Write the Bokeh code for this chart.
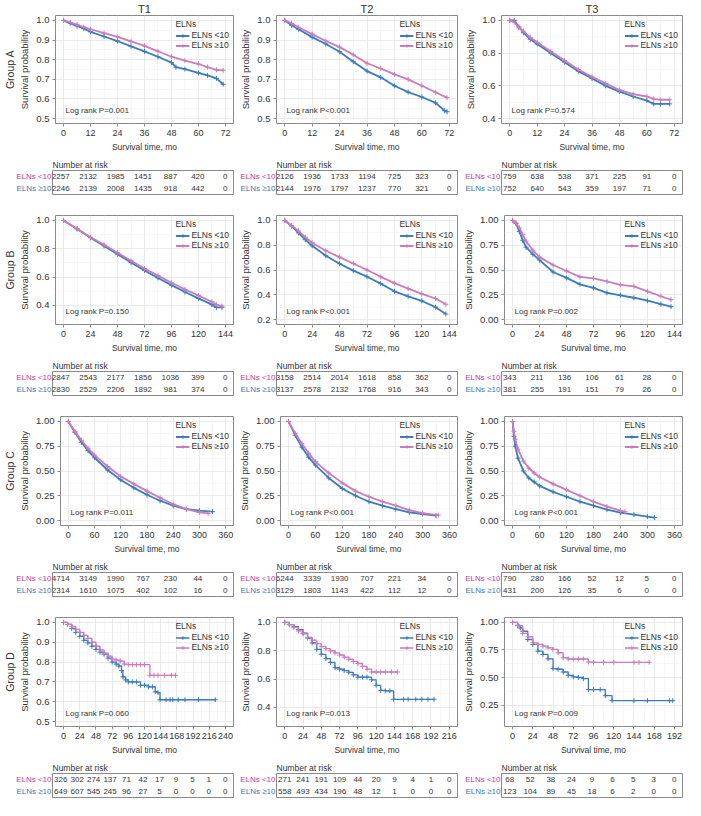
from bokeh.plotting import figure
from bokeh.layouts import column, row
from bokeh.models import (Range1d, FixedTicker, NumeralTickFormatter, Label, Title,
                          Legend, LegendItem)
from bokeh.embed import file_html
from bokeh.resources import INLINE
from bokeh.core.properties import value

FONT = "Liberation Sans"
BLUE = "#3B7CC0"
PINK = "#CB7CB9"
LAB_LT = "#C8389E"
LAB_GE = "#3B78B8"

# ---------------- data ----------------
series_labels = ["ELNs <10", "ELNs \u226510"]
col_titles = ["T1", "T2", "T3"]
row_titles = ["Group A", "Group B", "Group C", "Group D"]

# x ticks (also risk-table times)
xt_A = [0, 12, 24, 36, 48, 60, 72]
xt_B = [0, 24, 48, 72, 96, 120, 144]
xt_C = [0, 60, 120, 180, 240, 300, 360]
xt_D1 = [0, 24, 48, 72, 96, 120, 144, 168, 192, 216, 240]
xt_D2 = [0, 24, 48, 72, 96, 120, 144, 168, 192, 216]
xt_D3 = [0, 24, 48, 72, 96, 120, 144, 168, 192]

# y ticks
yt_A12 = [0.5, 0.6, 0.7, 0.8, 0.9, 1.0]
yt_A3 = [0.4, 0.6, 0.8, 1.0]
yt_B1 = [0.4, 0.6, 0.8, 1.0]
yt_B2 = [0.2, 0.4, 0.6, 0.8, 1.0]
yt_Q = [0.0, 0.25, 0.5, 0.75, 1.0]
yt_D1 = [0.5, 0.6, 0.7, 0.8, 0.9, 1.0]
yt_D2 = [0.4, 0.6, 0.8, 1.0]
yt_D3 = [0.25, 0.5, 0.75, 1.0]

# y limits (before 5% expansion)
ylim_A12 = [0.5, 1.0]
ylim_A3 = [0.4, 1.0]
ylim_B1 = [0.3, 1.0]
ylim_B2 = [0.2, 1.0]
ylim_Q = [0.0, 1.0]
ylim_D1 = [0.5, 1.0]
ylim_D2 = [0.3, 1.0]
ylim_D3 = [0.1, 1.0]

pvals = ["Log rank P=0.001", "Log rank P<0.001", "Log rank P=0.574",
         "Log rank P=0.150", "Log rank P<0.001", "Log rank P=0.002",
         "Log rank P=0.011", "Log rank P<0.001", "Log rank P<0.001",
         "Log rank P=0.060", "Log rank P=0.013", "Log rank P=0.009"]

# --- Group A ---
A1_lt_t = [0, 3, 6, 9, 12, 18, 24, 30, 36, 42, 48, 50, 54, 60, 64, 68, 71]
A1_lt_s = [1.0, 0.985, 0.972, 0.958, 0.942, 0.918, 0.895, 0.868, 0.842, 0.815, 0.785, 0.762, 0.752, 0.733, 0.72, 0.705, 0.675]
A1_ge_t = [0, 3, 6, 9, 12, 18, 24, 30, 36, 42, 48, 54, 60, 64, 68, 71]
A1_ge_s = [1.0, 0.99, 0.978, 0.966, 0.955, 0.935, 0.916, 0.893, 0.87, 0.843, 0.815, 0.795, 0.778, 0.762, 0.748, 0.746]

A2_lt_t = [0, 3, 6, 12, 18, 24, 30, 36, 42, 48, 54, 60, 66, 70, 71]
A2_lt_s = [1.0, 0.975, 0.955, 0.915, 0.88, 0.84, 0.79, 0.742, 0.71, 0.667, 0.635, 0.61, 0.58, 0.54, 0.535]
A2_ge_t = [0, 3, 6, 12, 18, 24, 30, 36, 42, 48, 54, 60, 66, 71]
A2_ge_s = [1.0, 0.985, 0.965, 0.93, 0.895, 0.864, 0.825, 0.782, 0.755, 0.725, 0.70, 0.667, 0.634, 0.607]

A3_lt_t = [0, 2, 4, 6, 9, 12, 18, 24, 30, 36, 42, 48, 54, 60, 63, 66, 70]
A3_lt_s = [1.0, 1.0, 0.96, 0.925, 0.885, 0.856, 0.80, 0.745, 0.69, 0.645, 0.60, 0.565, 0.535, 0.51, 0.49, 0.49, 0.49]
A3_ge_t = [0, 2, 4, 6, 9, 12, 18, 24, 30, 36, 42, 48, 54, 60, 63, 66, 70]
A3_ge_s = [1.0, 0.99, 0.955, 0.935, 0.895, 0.866, 0.81, 0.755, 0.70, 0.655, 0.615, 0.575, 0.55, 0.535, 0.52, 0.515, 0.515]

# --- Group B ---
B1_lt_t = [0, 12, 24, 36, 48, 60, 72, 84, 96, 108, 120, 132, 136, 141]
B1_lt_s = [1.0, 0.94, 0.878, 0.82, 0.762, 0.703, 0.647, 0.594, 0.543, 0.495, 0.45, 0.405, 0.386, 0.386]
B1_ge_t = [0, 12, 24, 36, 48, 60, 72, 84, 96, 108, 120, 132, 136, 141]
B1_ge_s = [1.0, 0.942, 0.882, 0.828, 0.772, 0.716, 0.66, 0.61, 0.56, 0.513, 0.47, 0.425, 0.405, 0.395]

B2_lt_t = [0, 6, 12, 18, 24, 36, 48, 60, 72, 84, 96, 108, 120, 132, 141]
B2_lt_s = [1.0, 0.955, 0.90, 0.845, 0.795, 0.715, 0.651, 0.595, 0.546, 0.49, 0.428, 0.387, 0.35, 0.30, 0.245]
B2_ge_t = [0, 6, 12, 18, 24, 36, 48, 60, 72, 84, 96, 108, 120, 132, 141]
B2_ge_s = [1.0, 0.96, 0.915, 0.865, 0.82, 0.755, 0.704, 0.652, 0.60, 0.545, 0.494, 0.45, 0.407, 0.37, 0.323]

B3_lt_t = [0, 3, 6, 9, 12, 18, 24, 36, 48, 60, 72, 84, 96, 108, 120, 132, 141]
B3_lt_s = [1.0, 0.97, 0.89, 0.80, 0.73, 0.66, 0.60, 0.48, 0.42, 0.355, 0.32, 0.27, 0.245, 0.22, 0.19, 0.155, 0.13]
B3_ge_t = [0, 3, 6, 9, 12, 18, 24, 36, 48, 60, 72, 84, 96, 108, 120, 132, 141]
B3_ge_s = [1.0, 0.975, 0.925, 0.86, 0.79, 0.70, 0.63, 0.55, 0.49, 0.43, 0.415, 0.385, 0.35, 0.335, 0.285, 0.235, 0.20]

# --- Group C ---
C1_lt_t = [0, 15, 30, 45, 60, 90, 120, 150, 180, 210, 240, 270, 300, 330]
C1_lt_s = [1.0, 0.89, 0.79, 0.705, 0.634, 0.51, 0.41, 0.33, 0.26, 0.20, 0.15, 0.115, 0.10, 0.09]
C1_ge_t = [0, 15, 30, 45, 60, 90, 120, 150, 180, 210, 240, 270, 300, 320]
C1_ge_s = [1.0, 0.90, 0.81, 0.73, 0.66, 0.545, 0.445, 0.37, 0.297, 0.23, 0.165, 0.115, 0.083, 0.073]

C2_lt_t = [0, 15, 30, 45, 60, 90, 120, 150, 180, 210, 240, 270, 300, 330]
C2_lt_s = [1.0, 0.86, 0.74, 0.64, 0.56, 0.43, 0.323, 0.25, 0.19, 0.15, 0.115, 0.083, 0.066, 0.05]
C2_ge_t = [0, 15, 30, 45, 60, 90, 120, 150, 180, 210, 240, 270, 300, 335]
C2_ge_s = [1.0, 0.88, 0.775, 0.68, 0.594, 0.48, 0.38, 0.297, 0.24, 0.19, 0.15, 0.105, 0.075, 0.055]

C3_lt_t = [0, 3, 6, 12, 24, 36, 48, 60, 90, 120, 150, 180, 210, 240, 270, 300, 316]
C3_lt_s = [1.0, 0.85, 0.75, 0.63, 0.5, 0.43, 0.39, 0.35, 0.29, 0.24, 0.19, 0.15, 0.11, 0.08, 0.06, 0.04, 0.03]
C3_ge_t = [0, 3, 6, 12, 24, 36, 48, 60, 90, 120, 150, 180, 210, 240, 250]
C3_ge_s = [1.0, 0.9, 0.82, 0.72, 0.6, 0.53, 0.48, 0.44, 0.37, 0.31, 0.25, 0.19, 0.14, 0.10, 0.09]

# --- Group D ---
D1_lt_t = [0, 6, 12, 18, 24, 30, 36, 42, 48, 54, 60, 66, 72, 78, 82, 86, 88, 92, 96, 102, 108, 114, 120, 126, 132, 136, 140, 143, 152, 158, 162, 170, 180, 200, 225]
D1_lt_s = [1.0, 0.99, 0.97, 0.95, 0.93, 0.91, 0.897, 0.88, 0.864, 0.85, 0.84, 0.82, 0.80, 0.79, 0.78, 0.757, 0.725, 0.71, 0.70, 0.70, 0.70, 0.683, 0.683, 0.675, 0.675, 0.65, 0.646, 0.61, 0.61, 0.61, 0.61, 0.61, 0.61, 0.61, 0.61]
D1_ge_t = [0, 6, 12, 18, 24, 30, 36, 42, 48, 54, 60, 66, 72, 78, 84, 90, 96, 102, 108, 114, 120, 128, 134, 140, 150, 160, 166]
D1_ge_s = [1.0, 0.99, 0.98, 0.965, 0.95, 0.935, 0.92, 0.90, 0.88, 0.862, 0.845, 0.83, 0.815, 0.81, 0.805, 0.79, 0.787, 0.787, 0.787, 0.787, 0.787, 0.733, 0.733, 0.733, 0.733, 0.733, 0.733]

D2_lt_t = [0, 6, 12, 18, 24, 30, 36, 42, 48, 54, 60, 66, 72, 78, 84, 90, 96, 102, 108, 114, 120, 126, 132, 138, 143, 156, 162, 172, 180, 188, 196]
D2_lt_s = [1.0, 0.985, 0.97, 0.95, 0.925, 0.89, 0.855, 0.81, 0.775, 0.745, 0.717, 0.68, 0.67, 0.66, 0.648, 0.63, 0.614, 0.614, 0.614, 0.595, 0.556, 0.52, 0.517, 0.517, 0.457, 0.457, 0.457, 0.457, 0.457, 0.457, 0.457]
D2_ge_t = [0, 6, 12, 18, 24, 30, 36, 42, 48, 54, 60, 66, 72, 78, 84, 90, 96, 102, 108, 114, 120, 126, 132, 140, 148]
D2_ge_s = [1.0, 0.985, 0.965, 0.94, 0.92, 0.895, 0.875, 0.85, 0.83, 0.815, 0.80, 0.785, 0.77, 0.755, 0.74, 0.725, 0.71, 0.69, 0.67, 0.65, 0.65, 0.65, 0.65, 0.65, 0.65]

D3_lt_t = [0, 6, 9, 12, 18, 24, 30, 36, 42, 48, 54, 60, 66, 72, 78, 84, 90, 96, 104, 110, 118, 144, 160, 186, 190]
D3_lt_s = [1.0, 0.975, 0.95, 0.92, 0.845, 0.80, 0.74, 0.71, 0.67, 0.58, 0.575, 0.55, 0.52, 0.506, 0.50, 0.49, 0.39, 0.39, 0.39, 0.335, 0.29, 0.29, 0.29, 0.29, 0.29]
D3_ge_t = [0, 6, 12, 18, 24, 30, 36, 42, 48, 54, 60, 66, 72, 78, 84, 90, 96, 108, 120, 144, 150, 162]
D3_ge_s = [1.0, 0.97, 0.90, 0.87, 0.815, 0.80, 0.785, 0.77, 0.755, 0.725, 0.68, 0.668, 0.668, 0.668, 0.668, 0.64, 0.638, 0.638, 0.638, 0.638, 0.638, 0.638]

# --- number at risk ---
R_A1_lt = [2257, 2132, 1985, 1451, 887, 420, 0]
R_A1_ge = [2246, 2139, 2008, 1435, 918, 442, 0]
R_A2_lt = [2126, 1936, 1733, 1194, 725, 323, 0]
R_A2_ge = [2144, 1976, 1797, 1237, 770, 321, 0]
R_A3_lt = [759, 638, 538, 371, 225, 91, 0]
R_A3_ge = [752, 640, 543, 359, 197, 71, 0]
R_B1_lt = [2847, 2543, 2177, 1856, 1036, 399, 0]
R_B1_ge = [2830, 2529, 2206, 1892, 981, 374, 0]
R_B2_lt = [3158, 2514, 2014, 1618, 858, 362, 0]
R_B2_ge = [3137, 2578, 2132, 1768, 916, 343, 0]
R_B3_lt = [343, 211, 136, 106, 61, 28, 0]
R_B3_ge = [381, 255, 191, 151, 79, 26, 0]
R_C1_lt = [4714, 3149, 1990, 767, 230, 44, 0]
R_C1_ge = [2314, 1610, 1075, 402, 102, 16, 0]
R_C2_lt = [6244, 3339, 1930, 707, 221, 34, 0]
R_C2_ge = [3129, 1803, 1143, 422, 112, 12, 0]
R_C3_lt = [790, 280, 166, 52, 12, 5, 0]
R_C3_ge = [431, 200, 126, 35, 6, 0, 0]
R_D1_lt = [326, 302, 274, 137, 71, 42, 17, 9, 5, 1, 0]
R_D1_ge = [649, 607, 545, 245, 96, 27, 5, 0, 0, 0, 0]
R_D2_lt = [271, 241, 191, 109, 44, 20, 9, 4, 1, 0]
R_D2_ge = [558, 493, 434, 196, 48, 12, 1, 0, 0, 0]
R_D3_lt = [68, 52, 38, 24, 9, 6, 5, 3, 0]
R_D3_ge = [123, 104, 89, 45, 18, 6, 2, 0, 0]

panels = [
    [dict(xt=xt_A, yt=yt_A12, ylim=ylim_A12, fmt="0.0", c=[(A1_lt_t, A1_lt_s), (A1_ge_t, A1_ge_s)], r=[R_A1_lt, R_A1_ge], step=False),
     dict(xt=xt_A, yt=yt_A12, ylim=ylim_A12, fmt="0.0", c=[(A2_lt_t, A2_lt_s), (A2_ge_t, A2_ge_s)], r=[R_A2_lt, R_A2_ge], step=False),
     dict(xt=xt_A, yt=yt_A3, ylim=ylim_A3, fmt="0.0", c=[(A3_lt_t, A3_lt_s), (A3_ge_t, A3_ge_s)], r=[R_A3_lt, R_A3_ge], step=False)],
    [dict(xt=xt_B, yt=yt_B1, ylim=ylim_B1, fmt="0.0", c=[(B1_lt_t, B1_lt_s), (B1_ge_t, B1_ge_s)], r=[R_B1_lt, R_B1_ge], step=False),
     dict(xt=xt_B, yt=yt_B2, ylim=ylim_B2, fmt="0.0", c=[(B2_lt_t, B2_lt_s), (B2_ge_t, B2_ge_s)], r=[R_B2_lt, R_B2_ge], step=False),
     dict(xt=xt_B, yt=yt_Q, ylim=ylim_Q, fmt="0.00", c=[(B3_lt_t, B3_lt_s), (B3_ge_t, B3_ge_s)], r=[R_B3_lt, R_B3_ge], step=False)],
    [dict(xt=xt_C, yt=yt_Q, ylim=ylim_Q, fmt="0.00", c=[(C1_lt_t, C1_lt_s), (C1_ge_t, C1_ge_s)], r=[R_C1_lt, R_C1_ge], step=False),
     dict(xt=xt_C, yt=yt_Q, ylim=ylim_Q, fmt="0.00", c=[(C2_lt_t, C2_lt_s), (C2_ge_t, C2_ge_s)], r=[R_C2_lt, R_C2_ge], step=False),
     dict(xt=xt_C, yt=yt_Q, ylim=ylim_Q, fmt="0.00", c=[(C3_lt_t, C3_lt_s), (C3_ge_t, C3_ge_s)], r=[R_C3_lt, R_C3_ge], step=False)],
    [dict(xt=xt_D1, yt=yt_D1, ylim=ylim_D1, fmt="0.0", c=[(D1_lt_t, D1_lt_s), (D1_ge_t, D1_ge_s)], r=[R_D1_lt, R_D1_ge], step=True),
     dict(xt=xt_D2, yt=yt_D2, ylim=ylim_D2, fmt="0.0", c=[(D2_lt_t, D2_lt_s), (D2_ge_t, D2_ge_s)], r=[R_D2_lt, R_D2_ge], step=True),
     dict(xt=xt_D3, yt=yt_D3, ylim=ylim_D3, fmt="0.00", c=[(D3_lt_t, D3_lt_s), (D3_ge_t, D3_ge_s)], r=[R_D3_lt, R_D3_ge], step=True)],
]

# ---------------- layout sizes ----------------
COL_W = [236, 224, 225]
COL_LB = [52, 40, 41]
COL_RB = [3, 3, 3]
FRAME_H = 109
BOT_B = 31
TOP_FIRST = 14
TOP_OTHER = 19
TAB_TOP = 16
TAB_FRAME = 24
TAB_BOT = 2

TXT = "#333333"
GRID_MAJ = "#E4E4E4"
GRID_MIN = "#F1F1F1"
FRAME_COL = "#8A8A8A"


def minor_of(ticks):
    return [(a + b) / 2 for a, b in zip(ticks[:-1], ticks[1:])]


def build(ri, ci, pd):
    xt = pd["xt"]
    span = xt[-1] - xt[0]
    xr = Range1d(xt[0] - 0.05 * span, xt[-1] + 0.05 * span)
    ylo, yhi = pd["ylim"]
    ys = yhi - ylo
    yr = Range1d(ylo - 0.05 * ys, yhi + 0.05 * ys)
    top = TOP_FIRST if ri == 0 else TOP_OTHER
    p = figure(width=COL_W[ci], height=top + FRAME_H + BOT_B, x_range=xr, y_range=yr,
               output_backend="svg", toolbar_location=None,
               min_border_left=COL_LB[ci], min_border_right=COL_RB[ci],
               min_border_top=top, min_border_bottom=BOT_B)
    if ri == 0:
        p.add_layout(Title(text=col_titles[ci], align="center", text_font=FONT,
                           text_font_size="11px", text_font_style="normal",
                           text_color=TXT, standoff=1), "above")
    if ci == 0:
        p.add_layout(Title(text=row_titles[ri], align="center", text_font=FONT,
                           text_font_size="10.5px", text_font_style="normal",
                           text_color=TXT, standoff=2), "left")
    p.xaxis.ticker = FixedTicker(ticks=xt, minor_ticks=minor_of(xt))
    p.yaxis.ticker = FixedTicker(ticks=pd["yt"], minor_ticks=minor_of(pd["yt"]))
    p.yaxis.formatter = NumeralTickFormatter(format=pd["fmt"])
    p.xaxis.axis_label = "Survival time, mo"
    p.yaxis.axis_label = "Survival probability"
    for ax in (p.xaxis, p.yaxis):
        ax.axis_line_color = None
        ax.major_tick_line_color = FRAME_COL
        ax.major_tick_out = 3
        ax.major_tick_in = 0
        ax.minor_tick_line_color = None
        ax.major_label_text_font = FONT
        ax.major_label_text_color = TXT
        ax.major_label_standoff = 2
        ax.axis_label_text_font = FONT
        ax.axis_label_text_font_style = "normal"
        ax.axis_label_text_color = TXT
        ax.axis_label_standoff = 3
    p.xaxis.major_label_text_font_size = "9px"
    p.yaxis.major_label_text_font_size = "9.5px"
    p.xaxis.axis_label_text_font_size = "8.5px"
    p.yaxis.axis_label_text_font_size = "9.5px"
    p.xgrid.ticker = p.xaxis.ticker
    p.ygrid.ticker = p.yaxis.ticker
    for g in (p.xgrid, p.ygrid):
        g.grid_line_color = GRID_MAJ
        g.grid_line_width = 0.8
        g.minor_grid_line_color = GRID_MIN
        g.minor_grid_line_width = 0.6
    p.outline_line_color = FRAME_COL
    p.outline_line_width = 1
    p.background_fill_color = "white"

    items = []
    for k, (tt, ss) in enumerate(pd["c"]):
        col = BLUE if k == 0 else PINK
        if pd["step"]:
            ln = p.step(tt, ss, mode="after", line_color=col, line_width=1.3)
        else:
            ln = p.line(tt, ss, line_color=col, line_width=1.8)
        sc = p.scatter(tt, ss, marker="cross", size=5, line_color=col, line_width=1)
        items.append(LegendItem(label=series_labels[k], renderers=[ln, sc]))
    leg = Legend(items=items, title="ELNs", location="top_right")
    leg.background_fill_alpha = 0
    leg.border_line_alpha = 0
    leg.label_text_font = FONT
    leg.label_text_font_size = "8.5px"
    leg.label_text_color = TXT
    leg.title_text_font = FONT
    leg.title_text_font_size = "8.5px"
    leg.title_text_font_style = "normal"
    leg.title_text_color = TXT
    leg.title_standoff = 1
    leg.glyph_width = 14
    leg.glyph_height = 9
    leg.label_height = 9
    leg.label_standoff = 2
    leg.spacing = 0
    leg.padding = 2
    leg.margin = 2
    p.add_layout(leg)

    p.add_layout(Label(x=xr.start, y=yr.start, x_offset=10, y_offset=9,
                       text=pvals[ri * 3 + ci], text_font=FONT, text_font_size="8px",
                       text_color=TXT, text_baseline="bottom", text_align="left"))

    # risk table: label strip + table box
    tab_h = TAB_TOP + TAB_FRAME + TAB_BOT
    lab = figure(width=COL_LB[ci], height=tab_h, x_range=Range1d(0, 1),
                 y_range=Range1d(0, 2), output_backend="svg", toolbar_location=None,
                 min_border_left=0, min_border_right=0,
                 min_border_top=TAB_TOP, min_border_bottom=TAB_BOT)
    lab.xaxis.visible = False
    lab.yaxis.visible = False
    lab.grid.visible = False
    lab.outline_line_color = None

    t = figure(width=COL_W[ci] - COL_LB[ci], height=tab_h, x_range=xr,
               y_range=Range1d(0, 2), output_backend="svg", toolbar_location=None,
               min_border_left=0, min_border_right=COL_RB[ci],
               min_border_top=TAB_TOP, min_border_bottom=TAB_BOT)
    t.add_layout(Title(text="Number at risk", align="left", text_font=FONT,
                       text_font_size="8.5px", text_font_style="normal",
                       text_color=TXT, standoff=1), "above")
    t.xaxis.visible = False
    t.yaxis.visible = False
    t.grid.visible = False
    t.outline_line_color = FRAME_COL
    for k, vals in enumerate(pd["r"]):
        yv = 1.5 if k == 0 else 0.5
        t.text(x=xt, y=[yv] * len(vals), text=[str(v) for v in vals],
               text_align="center", text_baseline="middle",
               text_font=value(FONT), text_font_size="8px", text_color=TXT)
        lab.text(x=[1], y=[yv], text=[series_labels[k]], x_offset=-1,
                 text_align="right", text_baseline="middle",
                 text_font=value(FONT), text_font_size="8px",
                 text_color=LAB_LT if k == 0 else LAB_GE)
    return column(p, row(lab, t, spacing=0), spacing=0)


rows = []
for ri in range(4):
    rows.append(row(*[build(ri, ci, panels[ri][ci]) for ci in range(3)], spacing=0))
layout = column(*rows, spacing=0)

open("out.html", "w").write(file_html(layout, INLINE))
